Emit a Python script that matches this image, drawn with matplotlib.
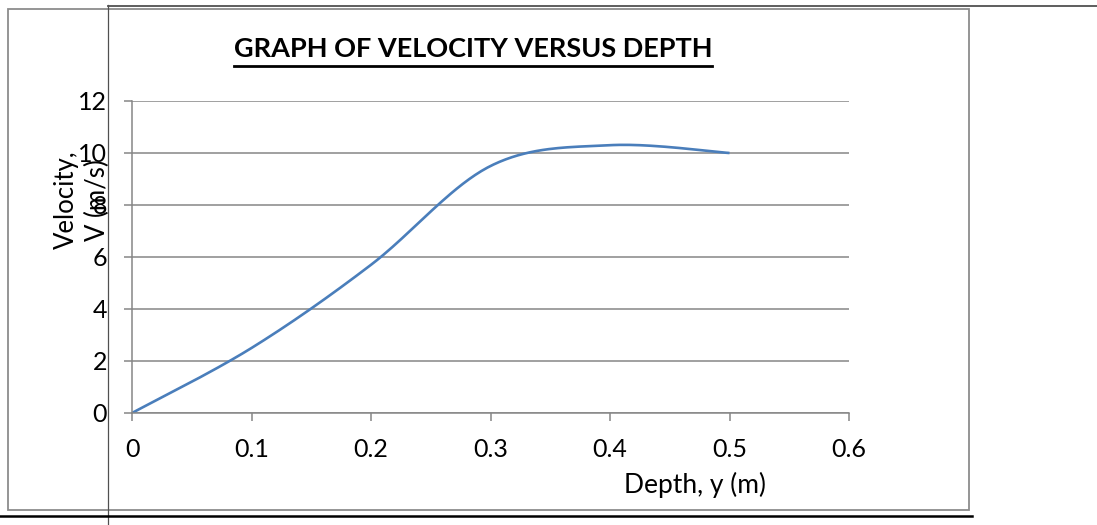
import numpy as np
import matplotlib.pyplot as plt
from matplotlib.lines import Line2D
from matplotlib.patches import Rectangle

# data
depth = [0.0, 0.1, 0.2, 0.3, 0.4, 0.5]
velocity = [0.0, 2.5, 5.7, 9.5, 10.3, 10.0]
x_ticks = [0, 0.1, 0.2, 0.3, 0.4, 0.5, 0.6]
x_tick_labels = ['0', '0.1', '0.2', '0.3', '0.4', '0.5', '0.6']
y_ticks = [0, 2, 4, 6, 8, 10, 12]

W, H = 1097, 525
plt.rcParams['font.family'] = ['Lato', 'DejaVu Sans']


def px(x, y):
    # pixel position (from top left) to figure fraction
    return x / W, 1 - y / H


def smooth(xs, ys, n=40):
    # Catmull-Rom spline like Excel's "smoothed line"
    pts = np.column_stack([xs, ys])
    pts = np.vstack([pts[0], pts, pts[-1]])
    out = []
    for i in range(1, len(pts) - 2):
        p0, p1, p2, p3 = pts[i - 1], pts[i], pts[i + 1], pts[i + 2]
        t = np.linspace(0, 1, n)[:, None]
        m1 = (p2 - p0) / 2
        m2 = (p3 - p1) / 2
        h00 = 2 * t**3 - 3 * t**2 + 1
        h10 = t**3 - 2 * t**2 + t
        h01 = -2 * t**3 + 3 * t**2
        h11 = t**3 - t**2
        out.append(h00 * p1 + h10 * m1 + h01 * p2 + h11 * m2)
    out = np.vstack(out)
    return out[:, 0], out[:, 1]


fig = plt.figure(figsize=(W / 100, H / 100), dpi=100)

# page / cell borders around the chart
x0, y0 = px(8, 510)
x1, y1 = px(969, 9)
fig.add_artist(Rectangle((x0, y0), x1 - x0, y1 - y0, transform=fig.transFigure,
                         fill=False, edgecolor='#8c8c8c', lw=1.3))
fig.add_artist(Line2D([108 / W, 108 / W], [0, px(0, 5)[1]], transform=fig.transFigure,
                      color='#505050', lw=0.9))
fig.add_artist(Line2D([108 / W, 1], [px(0, 5.5)[1]] * 2, transform=fig.transFigure,
                      color='#505050', lw=1.3))
fig.add_artist(Line2D([0, 972 / W], [px(0, 516)[1]] * 2, transform=fig.transFigure,
                      color='black', lw=1.8))

left, top = px(132, 101)
right, bottom = px(849, 413)
ax = fig.add_axes([left, bottom, right - left, top - bottom])

sx, sy = smooth(depth, velocity)
ax.plot(sx, sy, color='#4A7EBB', lw=1.9, solid_capstyle='butt')

ax.set_xlim(0, 0.6)
ax.set_ylim(0, 12)
ax.set_xticks(x_ticks)
ax.set_xticklabels(x_tick_labels)
ax.set_yticks(y_ticks)
ax.yaxis.grid(True, color='#868686', lw=1.1)
ax.set_axisbelow(True)
for s in ['top', 'right']:
    ax.spines[s].set_visible(False)
for s in ['left', 'bottom']:
    ax.spines[s].set_color('#868686')
    ax.spines[s].set_linewidth(1.1)
ax.tick_params(axis='both', direction='out', length=6, width=1.1, color='#868686',
               labelsize=18, labelcolor='black')
ax.tick_params(axis='y', pad=12)
ax.tick_params(axis='x', pad=12)
ax.patch.set_visible(False)

# title with underline
tx, ty = px(473, 49)
title = fig.text(tx, ty, 'GRAPH OF VELOCITY VERSUS DEPTH', ha='center', va='center',
                 fontsize=19.5, fontweight='bold')
fig.canvas.draw()
bb = title.get_window_extent(fig.canvas.get_renderer()).transformed(fig.transFigure.inverted())
uy = px(0, 66)[1]
fig.add_artist(Line2D([bb.x0, bb.x1], [uy, uy], transform=fig.transFigure, color='black', lw=2))

lx, ly = px(695, 485)
fig.text(lx, ly, 'Depth, y (m)', ha='center', va='center', fontsize=19)

vx, vy = px(82, 200)
fig.text(vx, vy, 'Velocity,\nV (m/s)', ha='center', va='center', rotation=90,
         multialignment='center', fontsize=18.5, linespacing=1.3)

fig.savefig('out.png', dpi=100)
